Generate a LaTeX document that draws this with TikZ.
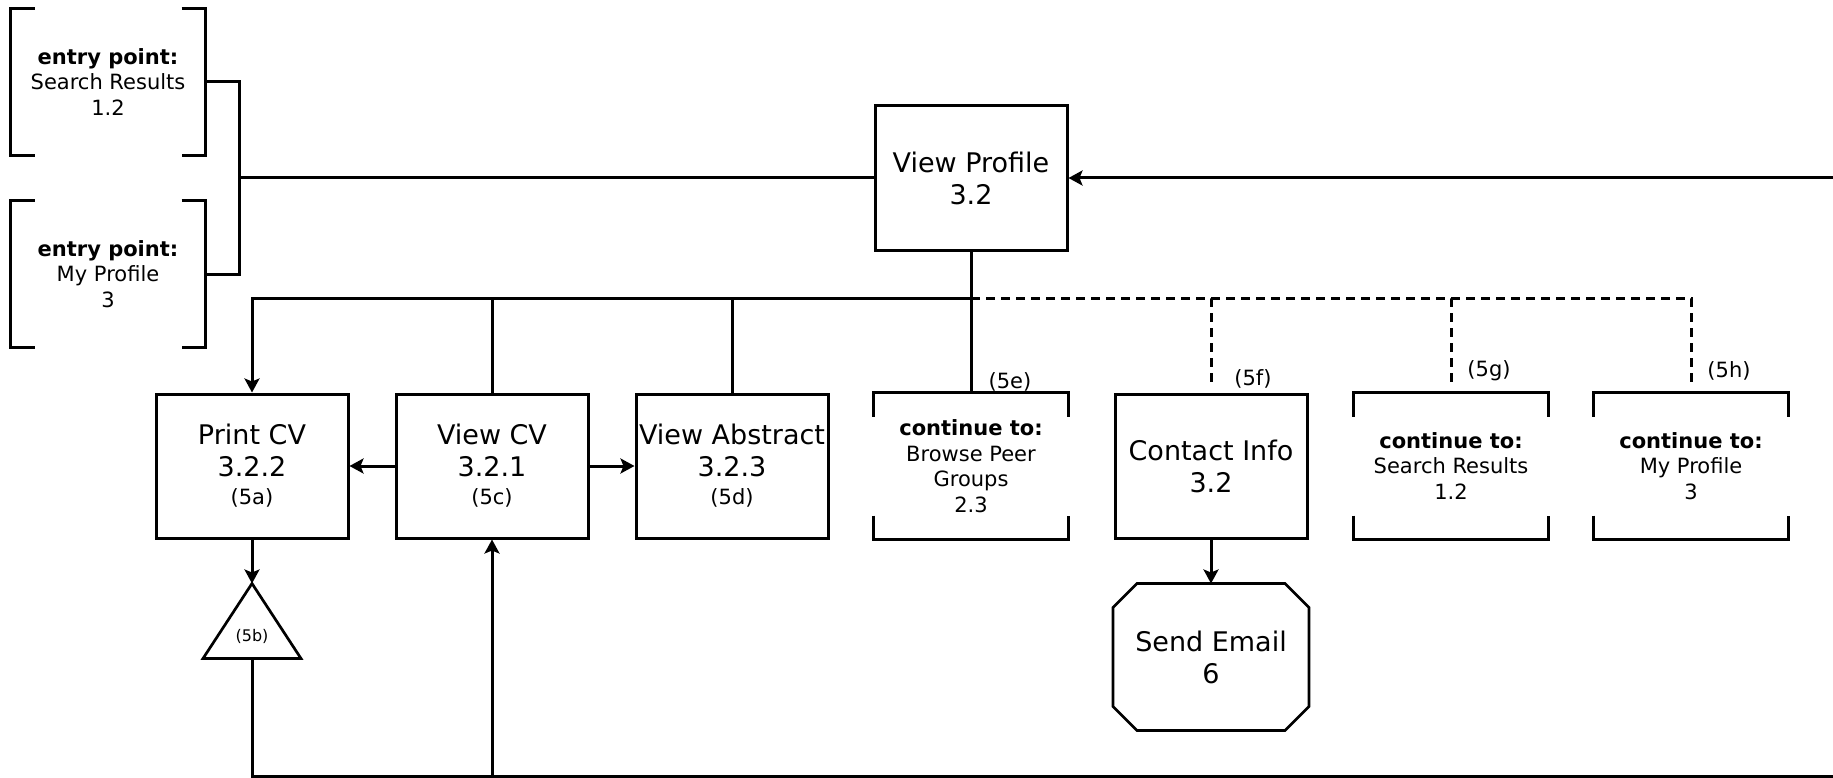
\documentclass[tikz,border=0pt]{standalone}
\usepackage{fontspec}
\setmainfont{DejaVu Sans}
\usetikzlibrary{arrows.meta}
\begin{document}
\begin{tikzpicture}[x=1pt,y=-1pt,
  line width=3pt,
  big/.style={font=\fontsize{27}{32}\selectfont},
  small/.style={font=\fontsize{21}{25.5}\selectfont},
  tiny/.style={font=\fontsize{16}{19}\selectfont},
  box/.style={draw, line width=3pt, minimum width=192pt, minimum height=144pt, align=center, inner sep=0pt},
  openbox/.style={minimum width=192pt, minimum height=144pt, align=center, inner sep=0pt},
  conn/.style={line width=3pt},
  arr/.style={conn, -{Stealth[length=14pt,width=15pt,inset=3pt]}},
  dsh/.style={conn, dash pattern=on 9pt off 6pt},
  lbl/.style={small, inner sep=0pt},
]
\useasboundingbox (0,0) rectangle (1833,778);

% entry points
\node[openbox, small] (ep1) at (108,82) {\textbf{entry point:}\\Search Results\\1.2};
\node[openbox, small] (ep2) at (108,274) {\textbf{entry point:}\\My Profile\\3};
\foreach \n in {ep1,ep2}{
  \draw[conn] ([xshift=24pt]\n.north west) -- (\n.north west) -- (\n.south west) -- ([xshift=24pt]\n.south west);
  \draw[conn] ([xshift=-24pt]\n.north east) -- (\n.north east) -- (\n.south east) -- ([xshift=-24pt]\n.south east);
}

% main
\node[box, big] (vp) at (971,178) {View Profile\\3.2};

\node[box, big] (pcv) at (252,466) {Print CV\\3.2.2\\[-4pt]{\fontsize{21}{25}\selectfont (5a)}};
\node[box, big] (vcv) at (492,466) {View CV\\3.2.1\\[-4pt]{\fontsize{21}{25}\selectfont (5c)}};
\node[box, big] (vab) at (732,466) {View Abstract\\3.2.3\\[-4pt]{\fontsize{21}{25}\selectfont (5d)}};
\node[openbox, small] (bpg) at (971,466) {\textbf{continue to:}\\Browse Peer\\Groups\\2.3};
\node[box, big] (ci) at (1211,466) {Contact Info\\3.2};
\node[openbox, small] (csr) at (1451,466) {\textbf{continue to:}\\Search Results\\1.2};
\node[openbox, small] (cmp) at (1691,466) {\textbf{continue to:}\\My Profile\\3};
\foreach \n in {bpg,csr,cmp}{
  \draw[conn] ([yshift=-24pt]\n.north west) -- (\n.north west) -- (\n.north east) -- ([yshift=-24pt]\n.north east);
  \draw[conn] ([yshift=24pt]\n.south west) -- (\n.south west) -- (\n.south east) -- ([yshift=24pt]\n.south east);
}

% triangle
\node[minimum width=95pt, minimum height=72pt, inner sep=0pt] (tri) at (252,621) {};
\draw[line width=2.7pt] (tri.north) -- (tri.south east) -- (tri.south west) -- cycle;
\node[tiny, inner sep=0pt] (t5b) at (252,636) {(5b)};

% octagon
\node[openbox, big, minimum width=193pt] (se) at (1211,657) {Send Email\\6};
\draw[line width=2.7pt] ([xshift=24pt]se.north west) -- ([xshift=-24pt]se.north east) -- ([yshift=-24pt]se.north east)
  -- ([yshift=24pt]se.south east) -- ([xshift=-24pt]se.south east) -- ([xshift=24pt]se.south west)
  -- ([yshift=24pt]se.south west) -- ([yshift=-24pt]se.north west) -- cycle;

% labels
\node[lbl] (l5e) at (1010,382) {(5e)};
\node[lbl] (l5f) at (1253,379) {(5f)};
\node[lbl] (l5g) at (1489,371) {(5g)};
\node[lbl] (l5h) at (1729,371) {(5h)};

% connectors
\coordinate (j1) at (239,178);
\draw[conn] (ep1.east) -| (j1);
\draw[conn] (ep2.east) -| (j1);
\draw[conn] (j1) -- (vp.west);

\coordinate (hub) at (971,298);
\draw[conn] (vp.south) -- (hub);
\draw[arr] (hub) -| (pcv.north);
\draw[conn] (hub) -| (vcv.north);
\draw[conn] (hub) -| (vab.north);
\draw[conn] (hub) -- (bpg.north);
\draw[dsh, shorten >=5pt] (hub) -| (ci.north);
\draw[dsh, shorten >=5pt] (hub) -| (csr.north);
\draw[dsh, shorten >=5pt] (hub) -| (cmp.north);

\draw[arr] (vcv.west) -- (pcv.east);
\draw[arr] (vcv.east) -- (vab.west);
\draw[arr] (pcv.south) -- (tri.north);
\draw[arr] (ci.south) -- (se.north);

\coordinate (bl) at (252,776);
\coordinate (bm) at (492,776);
\coordinate (br) at (1833,776);
\draw[conn] (tri.south) -- (bl) -- (br);
\draw[arr] (bm) -- (vcv.south);

\coordinate (tr) at (1833,178);
\draw[arr] (tr) -- (vp.east);
\end{tikzpicture}
\end{document}
